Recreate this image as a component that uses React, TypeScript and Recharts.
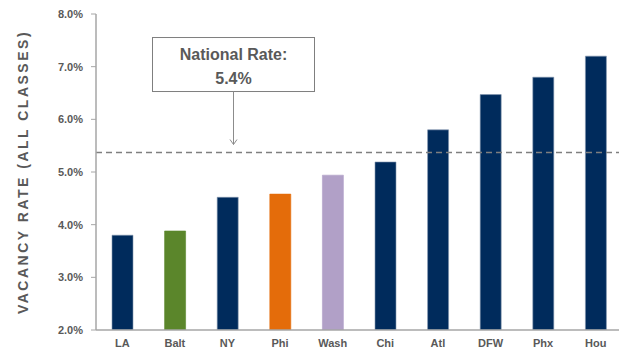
import { BarChart, Bar, Cell, XAxis, YAxis, ReferenceLine } from "recharts";

const markets = ["LA", "Balt", "NY", "Phi", "Wash", "Chi", "Atl", "DFW", "Phx", "Hou"];
const vacancyRates = [3.8, 3.88, 4.52, 4.58, 4.94, 5.19, 5.8, 6.47, 6.8, 7.2];
const yTicks = [2, 3, 4, 5, 6, 7, 8];
const nationalRate = 5.37;
const nationalLabel = "5.4%";

const NAVY = "#002b5c";
const barColors: Record<string, string> = {
  Balt: "#5b862b",
  Phi: "#e46c0a",
  Wash: "#b1a0c7",
};
const GRAY_TEXT = "#595959";

const data = markets.map((m, i) => ({ market: m, rate: vacancyRates[i] }));

if (typeof document !== "undefined") document.body.style.margin = "0";

function NationalCallout(props: any) {
  const vb = props.viewBox || {};
  const lineY = vb.y ?? 0;
  const cx = (vb.x ?? 0) + 137.5;
  const boxW = 162;
  const boxH = 54;
  const boxTop = lineY - 115;
  const tipY = lineY - 8;
  return (
    <g>
      <rect
        x={cx - boxW / 2}
        y={boxTop}
        width={boxW}
        height={boxH}
        fill="#fff"
        stroke="#7f7f7f"
        strokeWidth={1}
      />
      <text
        x={cx}
        y={boxTop + 22}
        textAnchor="middle"
        fill={GRAY_TEXT}
        fontSize={16}
        fontWeight="bold"
        fontFamily="Liberation Sans, Arial, sans-serif"
      >
        National Rate:
      </text>
      <text
        x={cx}
        y={boxTop + 46}
        textAnchor="middle"
        fill={GRAY_TEXT}
        fontSize={16}
        fontWeight="bold"
        fontFamily="Liberation Sans, Arial, sans-serif"
      >
        {nationalLabel}
      </text>
      <line x1={cx} y1={boxTop + boxH} x2={cx} y2={tipY} stroke="#8c8c8c" strokeWidth={1} />
      <polyline
        points={`${cx - 3.5},${tipY - 5} ${cx},${tipY} ${cx + 3.5},${tipY - 5}`}
        fill="none"
        stroke="#8c8c8c"
        strokeWidth={1}
      />
    </g>
  );
}

export default function App() {
  const tickStyle = {
    fill: GRAY_TEXT,
    fontSize: 11,
    fontWeight: "bold" as const,
    fontFamily: "Liberation Sans, Arial, sans-serif",
  };
  return (
    <div style={{ width: 619, height: 354, overflow: "hidden", background: "#fff" }}>
      <BarChart
        width={630}
        height={354}
        data={data}
        margin={{ top: 14, right: 8, bottom: 0, left: 0 }}
        barCategoryGap={0}
      >
        <XAxis
          dataKey="market"
          height={24}
          tickSize={0}
          tickMargin={9}
          tick={tickStyle}
          axisLine={{ stroke: "#a6a6a6", strokeWidth: 1.5 }}
          tickLine={false}
          interval={0}
        />
        <YAxis
          width={96}
          domain={[2, 8]}
          ticks={yTicks}
          tickFormatter={(v: number) => `${v.toFixed(1)}%`}
          tickSize={5}
          tickMargin={8}
          tick={tickStyle}
          axisLine={{ stroke: "#a6a6a6", strokeWidth: 1.5 }}
          tickLine={{ stroke: "#a6a6a6" }}
          allowDataOverflow
          label={{
            value: "VACANCY RATE (ALL CLASSES)",
            angle: -90,
            position: "insideLeft",
            offset: 23,
            style: {
              fill: GRAY_TEXT,
              fontSize: 14,
              fontWeight: "bold",
              letterSpacing: 2.5,
              fontFamily: "Liberation Sans, Arial, sans-serif",
              textAnchor: "middle",
            },
          }}
        />
        <Bar dataKey="rate" barSize={21} isAnimationActive={false} stroke="#8497b0" strokeWidth={0.6}>
          {data.map((d) => (
            <Cell key={d.market} fill={barColors[d.market] ?? NAVY} stroke={barColors[d.market] ?? "#8497b0"} />
          ))}
        </Bar>
        <ReferenceLine
          y={nationalRate}
          stroke="#7f7f7f"
          strokeWidth={1.5}
          strokeDasharray="6 4"
          label={(props: any) => <NationalCallout {...props} />}
        />
      </BarChart>
    </div>
  );
}
